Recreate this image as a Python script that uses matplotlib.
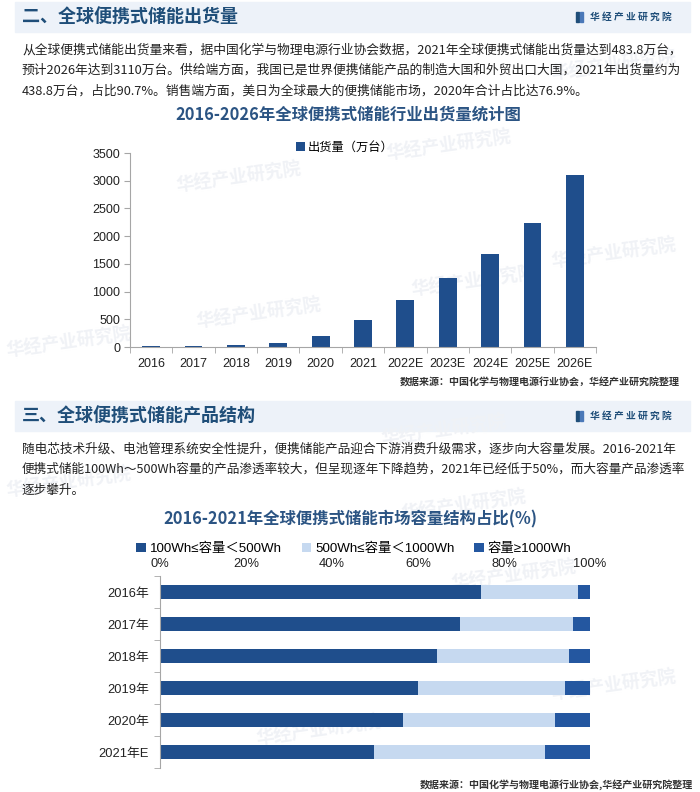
import matplotlib
matplotlib.use("Agg")
import matplotlib.pyplot as plt
from matplotlib.patches import Rectangle
from matplotlib.ticker import FixedLocator

plt.rcParams["font.family"] = ["Noto Sans CJK SC", "DejaVu Sans"]

# ---- data ----
years = ["2016", "2017", "2018", "2019", "2020", "2021", "2022E", "2023E", "2024E", "2025E", "2026E"]
shipments = [15, 18, 30, 70, 200, 483.8, 840, 1250, 1670, 2240, 3110]

struct_years = ["2016年", "2017年", "2018年", "2019年", "2020年", "2021年E"]
share_small = [74.6, 69.8, 64.5, 60.1, 56.4, 49.8]
share_mid = [22.5, 26.3, 30.7, 34.1, 35.5, 39.8]
share_large = [2.9, 3.9, 4.8, 5.8, 8.1, 10.4]
struct_names = ["100Wh≤容量＜500Wh", "500Wh≤容量＜1000Wh", "容量≥1000Wh"]
pct_ticks = [0, 20, 40, 60, 80, 100]

para1 = [
    "从全球便携式储能出货量来看，据中国化学与物理电源行业协会数据，2021年全球便携式储能出货量达到483.8万台，",
    "预计2026年达到3110万台。供给端方面，我国已是世界便携储能产品的制造大国和外贸出口大国，2021年出货量约为",
    "438.8万台，占比90.7%。销售端方面，美日为全球最大的便携储能市场，2020年合计占比达76.9%。",
]
para2 = [
    "随电芯技术升级、电池管理系统安全性提升，便携储能产品迎合下游消费升级需求，逐步向大容量发展。2016-2021年",
    "便携式储能100Wh～500Wh容量的产品渗透率较大，但呈现逐年下降趋势，2021年已经低于50%，而大容量产品渗透率",
    "逐步攀升。",
]

W, H = 700, 792
NAVY = "#1F4E79"
BAR = "#1F4E8C"
LIGHT = "#C6D9F0"
LARGE = "#2457A0"
GREY = "#A6A6A6"
NUM_FONT = ["Liberation Sans", "Noto Sans CJK SC"]


def fx(x):
    return x / W


def fy(y):
    return 1 - y / H


def header(fig, y, title):
    fig.patches.append(Rectangle((fx(15), fy(y + 15)), fx(675), 30 / H,
                                 transform=fig.transFigure, color="#EDF2F9", zorder=-3))
    fig.text(fx(22), fy(y), title, fontsize=13, fontweight="bold", color=NAVY, va="center")
    fig.patches.append(Rectangle((fx(576), fy(y + 5)), 3 / W, 10 / H,
                                 transform=fig.transFigure, color=NAVY))
    fig.patches.append(Rectangle((fx(580), fy(y + 5)), 3 / W, 10 / H,
                                 transform=fig.transFigure, color="#4A78B8"))
    fig.text(fx(590), fy(y), "华 经 产 业 研 究 院", fontsize=7, fontweight="bold",
             color=NAVY, va="center")


fig = plt.figure(figsize=(W / 100, H / 100), dpi=100)

# faint watermarks
for wx, wy in [(175, 192), (385, 160), (195, 328), (410, 296), (5, 357), (550, 268),
               (550, 80), (380, 445), (5, 497), (450, 590), (255, 745), (550, 700), (400, 520)]:
    fig.text(fx(wx), fy(wy), "华经产业研究院", fontsize=13, fontweight="bold",
             color="#F0F2F6", rotation=8, zorder=-2)

header(fig, 17, "二、全球便携式储能出货量")
for i, line in enumerate(para1):
    fig.text(fx(22), fy(50 + 20.5 * i), line, fontsize=9.2, color="#222222", va="center")

fig.text(fx(348), fy(115), "2016-2026年全球便携式储能行业出货量统计图",
         fontsize=11.8, fontweight="bold", color="#2B5483", ha="center", va="center")

# ---- chart 1 ----
ax1 = fig.add_axes([fx(130), fy(347), 466 / W, 194 / H])
ax1.set_facecolor("none")
ax1.bar(range(len(years)), shipments, width=0.42, color=BAR, label="出货量（万台）")
ax1.set_xlim(-0.5, len(years) - 0.5)
ax1.set_ylim(0, 3500)
ax1.set_yticks(range(0, 3501, 500))
ax1.set_xticks(range(len(years)))
ax1.set_xticklabels(years)
ax1.xaxis.set_minor_locator(FixedLocator([i - 0.5 for i in range(len(years) + 1)]))
ax1.tick_params(axis="x", which="major", length=0, pad=8)
ax1.tick_params(axis="x", which="minor", length=4, color=GREY)
ax1.tick_params(axis="y", length=4, color=GREY, pad=3)
for lab in ax1.get_xticklabels() + ax1.get_yticklabels():
    lab.set_family(NUM_FONT)
    lab.set_fontsize(9)
    lab.set_color("#222222")
for s in ["top", "right"]:
    ax1.spines[s].set_visible(False)
for s in ["left", "bottom"]:
    ax1.spines[s].set_color(GREY)
ax1.legend(loc="center", bbox_to_anchor=(fx(345), fy(147)), bbox_transform=fig.transFigure,
           frameon=False, fontsize=8.8, handlelength=0.7, handleheight=0.7, handletextpad=0.3)

fig.text(fx(680), fy(382), "数据来源：中国化学与物理电源行业协会，华经产业研究院整理",
         fontsize=7.2, fontweight="bold", color="#333333", ha="right", va="center")

header(fig, 416, "三、全球便携式储能产品结构")
for i, line in enumerate(para2):
    fig.text(fx(22), fy(449 + 20.5 * i), line, fontsize=9.1, color="#222222", va="center")

fig.text(fx(350), fy(519), "2016-2021年全球便携式储能市场容量结构占比(%)",
         fontsize=11.8, fontweight="bold", color="#2B5483", ha="center", va="center")

# ---- chart 2 ----
ax2 = fig.add_axes([fx(160), fy(768), 430 / W, 192 / H])
ax2.set_facecolor("none")
ypos = range(len(struct_years))
left2 = share_small
left3 = [a + b for a, b in zip(share_small, share_mid)]
ax2.barh(ypos, share_small, height=0.42, color=BAR, label=struct_names[0])
ax2.barh(ypos, share_mid, left=left2, height=0.42, color=LIGHT, label=struct_names[1])
ax2.barh(ypos, share_large, left=left3, height=0.42, color=LARGE, label=struct_names[2])
ax2.set_xlim(0, 100)
ax2.set_ylim(len(struct_years) - 0.5, -0.5)
ax2.xaxis.tick_top()
ax2.set_xticks(pct_ticks)
ax2.set_xticklabels([f"{t}%" for t in pct_ticks])
ax2.set_yticks(list(ypos))
ax2.set_yticklabels(struct_years)
ax2.yaxis.set_minor_locator(FixedLocator([i - 0.5 for i in range(len(struct_years) + 1)]))
ax2.tick_params(axis="x", length=0, pad=4)
ax2.tick_params(axis="y", which="major", length=0, pad=8)
ax2.tick_params(axis="y", which="minor", length=4, color=GREY)
for lab in ax2.get_xticklabels() + ax2.get_yticklabels():
    lab.set_family(NUM_FONT)
    lab.set_fontsize(9.3)
    lab.set_color("#222222")
for s in ["top", "right", "bottom"]:
    ax2.spines[s].set_visible(False)
ax2.spines["left"].set_color(GREY)
ax2.legend(loc="center", bbox_to_anchor=(fx(354), fy(549)), bbox_transform=fig.transFigure,
           ncol=3, frameon=False, handlelength=0.7, handleheight=0.7,
           handletextpad=0.3, columnspacing=1.5, prop={"family": NUM_FONT, "size": 9.6})

fig.text(fx(693), fy(785), "数据来源：中国化学与物理电源行业协会,华经产业研究院整理",
         fontsize=7.2, fontweight="bold", color="#333333", ha="right", va="center")

fig.savefig("out.png", dpi=100)
